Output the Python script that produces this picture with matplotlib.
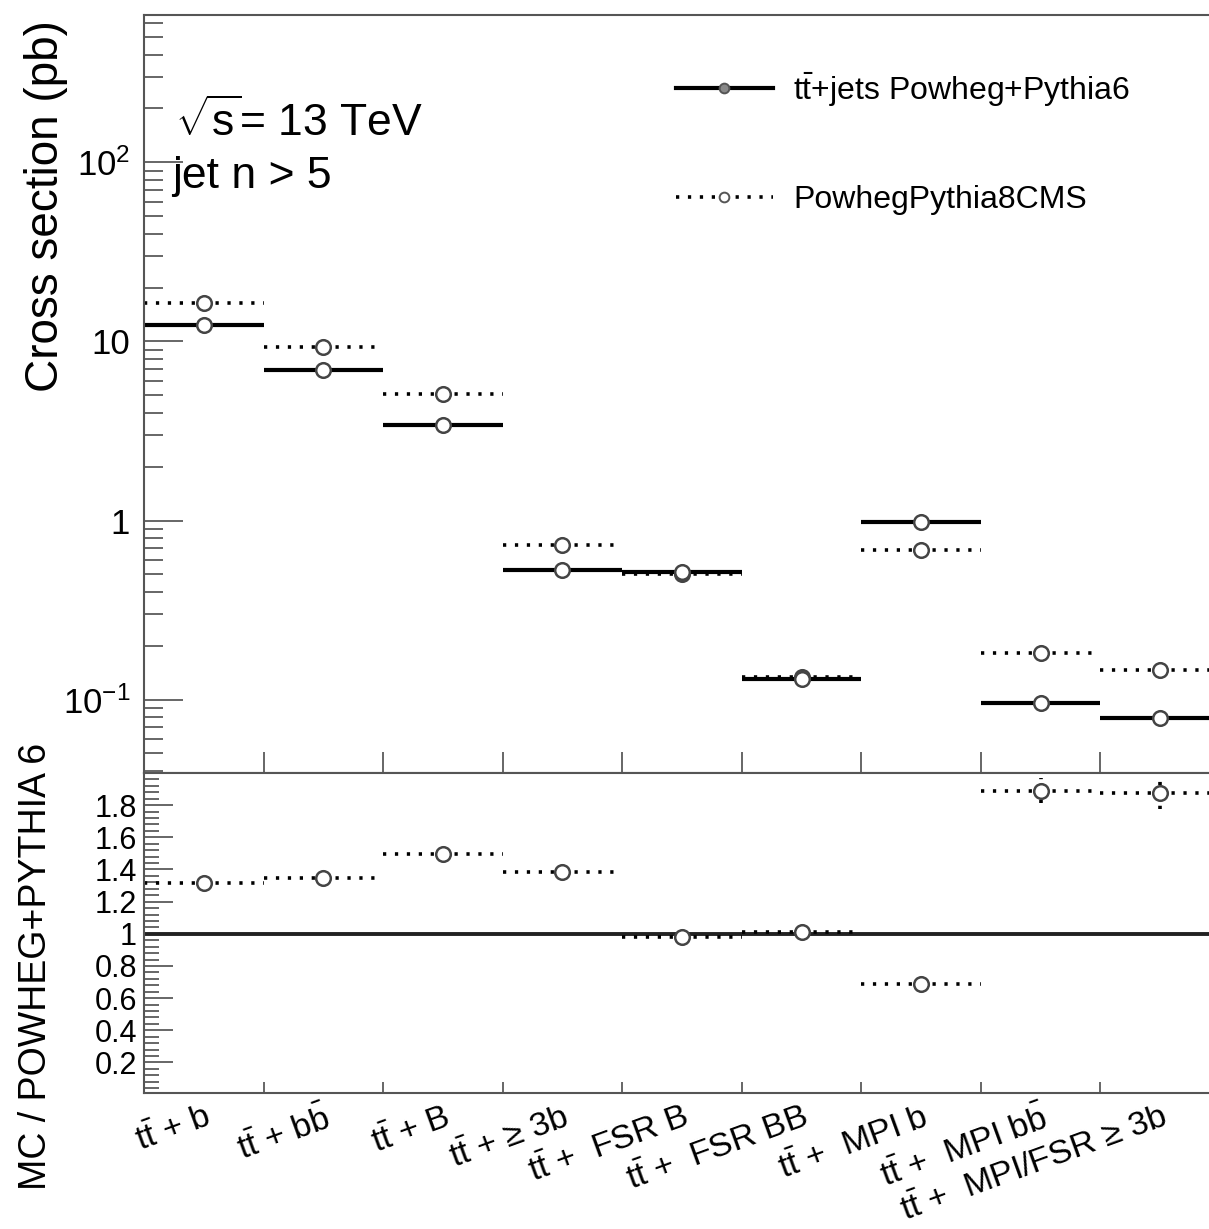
import numpy as np
import matplotlib
matplotlib.use('Agg')
import matplotlib.pyplot as plt
from matplotlib.lines import Line2D
from matplotlib.ticker import FixedLocator, FuncFormatter, MultipleLocator, LogLocator, NullFormatter

plt.rcParams['font.family'] = 'Liberation Sans'
plt.rcParams['mathtext.fontset'] = 'custom'
plt.rcParams['mathtext.rm'] = 'Liberation Sans'
plt.rcParams['mathtext.it'] = 'Liberation Sans:italic'
plt.rcParams['mathtext.bf'] = 'Liberation Sans:bold'

## Категории (бины)
TT = r'$\mathrm{t\bar{t}}$'
categories = [TT + ' + b',
              TT + r' + $\mathrm{b\bar{b}}$',
              TT + ' + B',
              TT + ' + ≥ 3b',
              TT + ' +  FSR B',
              TT + ' +  FSR BB',
              TT + ' +  MPI b',
              TT + r' +  MPI $\mathrm{b\bar{b}}$',
              TT + ' +  MPI/FSR ≥ 3b']

## Сечения, pb
xsec_py6 = [12.4, 6.89, 3.40, 0.528, 0.515, 0.131, 0.984, 0.0953, 0.0785]
xsec_py8 = [16.4, 9.30, 5.08, 0.728, 0.505, 0.133, 0.683, 0.183, 0.146]

## Отношение Pythia8 / Pythia6
ratio = [1.317, 1.349, 1.499, 1.384, 0.983, 1.014, 0.687, 1.891, 1.874]
ratio_err = [0.01, 0.01, 0.01, 0.01, 0.01, 0.03, 0.01, 0.08, 0.10]

edges = np.arange(len(categories) + 1)
centers = edges[:-1] + 0.5
dots = (0, (0.9, 2.4))
grey = '#555555'

W, H = 1209, 1229
fig = plt.figure(figsize=(W / 100, H / 100), dpi=100)
ax = fig.add_axes([144 / W, 1 - 773 / H, 1076 / W, 758 / H])
ax2 = fig.add_axes([144 / W, 1 - 1093 / H, 1076 / W, 320 / H])

## Верхняя панель
ax.hlines(xsec_py8, edges[:-1], edges[1:], color='black', lw=2.6, linestyles=dots, zorder=2)
ax.hlines(xsec_py6, edges[:-1], edges[1:], color='black', lw=3.0, zorder=2)
ax.plot(centers, xsec_py8, 'o', ms=10.5, mfc='white', mec='#444444', mew=1.8, ls='none', zorder=3)
ax.plot(centers, xsec_py6, 'o', ms=10.5, mfc='white', mec='#444444', mew=1.8, ls='none', zorder=3)

ax.set_yscale('log')
ax.set_xlim(0, 9)
ax.set_ylim(10 ** -1.41, 10 ** 2.823)
ax.yaxis.set_major_locator(LogLocator(base=10))
ax.yaxis.set_minor_locator(LogLocator(base=10, subs=np.arange(2, 10)))
ax.yaxis.set_minor_formatter(NullFormatter())
ylabels = {0.1: r'$10^{-1}$', 1.0: '1', 10.0: '10', 100.0: r'$10^{2}$'}
ax.yaxis.set_major_formatter(FuncFormatter(lambda v, p: ylabels.get(round(v, 3), '')))
ax.tick_params(axis='y', which='major', direction='in', length=28, width=1.4, color='#666666',
               labelsize=25, pad=10)
ax.tick_params(axis='y', which='minor', direction='in', length=14, width=1.4, color='#666666')
ax.set_xticks(edges)
ax.tick_params(axis='x', which='major', direction='in', length=15, width=1.4, color='#666666',
               labelbottom=False)

ax.text((175 - 144) / 1076, (773 - 136) / 758, r'$\sqrt{\mathrm{s}}$= 13 TeV', transform=ax.transAxes,
        fontsize=32, va='baseline')
ax.text((172 - 144) / 1076, (773 - 188) / 758, 'jet n > 5', transform=ax.transAxes,
        fontsize=32, va='baseline')

h6 = Line2D([], [], color='black', lw=3.0, marker='o', ms=7, mfc='#888888', mec=grey, mew=1.4)
h8 = Line2D([], [], color='black', lw=2.6, ls=dots, marker='o', ms=7, mfc='white', mec=grey, mew=1.4)
ax.legend([h6, h8], [TT + '+jets Powheg+Pythia6', 'PowhegPythia8CMS'], loc='upper left',
          bbox_to_anchor=(0.4944, 0.9268), frameon=False, fontsize=23, borderpad=0,
          borderaxespad=0, handlelength=3.03, handletextpad=0.63, labelspacing=2.4)

## Нижняя панель: отношение
ax2.axhline(1, color='#222222', lw=2.8, zorder=2)
ax2.hlines(ratio, edges[:-1], edges[1:], color='black', lw=2.6, linestyles=dots, zorder=2)
eb = ax2.errorbar(centers, ratio, yerr=ratio_err, fmt='o', ms=10.5, mfc='white', mec='#444444', mew=1.8,
                  ecolor='black', elinewidth=2.6, capsize=0, zorder=3)
eb[2][0].set_linestyle(dots)

ax2.set_xlim(0, 9)
ax2.set_ylim(0.01, 2.0)
ax2.yaxis.set_major_locator(FixedLocator(np.round(np.arange(0.2, 1.81, 0.2), 1)))
ax2.yaxis.set_minor_locator(MultipleLocator(0.04))
ax2.yaxis.set_major_formatter(FuncFormatter(lambda v, p: '1' if abs(v - 1) < 1e-6 else f'{v:.1f}'))
ax2.tick_params(axis='y', which='major', direction='in', length=21, width=1.4, color='#666666',
                labelsize=22, pad=5)
ax2.tick_params(axis='y', which='minor', direction='in', length=11, width=1.4, color='#666666')

ax2.set_xticks(edges)
ax2.set_xticklabels([])
ax2.tick_params(axis='x', which='major', direction='in', length=8, width=1.4, color='#666666')
ax2.set_xticks(centers, categories, minor=True)
ax2.tick_params(axis='x', which='minor', length=0, labelsize=24.5, pad=6)
for t in ax2.get_xticklabels(minor=True):
    t.set_rotation(20)
    t.set_ha('right')
    t.set_rotation_mode('anchor')

for a in (ax, ax2):
    for s in a.spines.values():
        s.set_color(grey)
        s.set_linewidth(1.5)

## Подписи осей
fig.text(46 / W, 1 - 20 / H, 'Cross section (pb)', rotation=90, ha='center', va='top', fontsize=33)
fig.text(36 / W, 1 - 743 / H, 'MC / POWHEG+PYTHIA 6', rotation=90, ha='center', va='top', fontsize=27)

fig.savefig('out.png', dpi=100)
